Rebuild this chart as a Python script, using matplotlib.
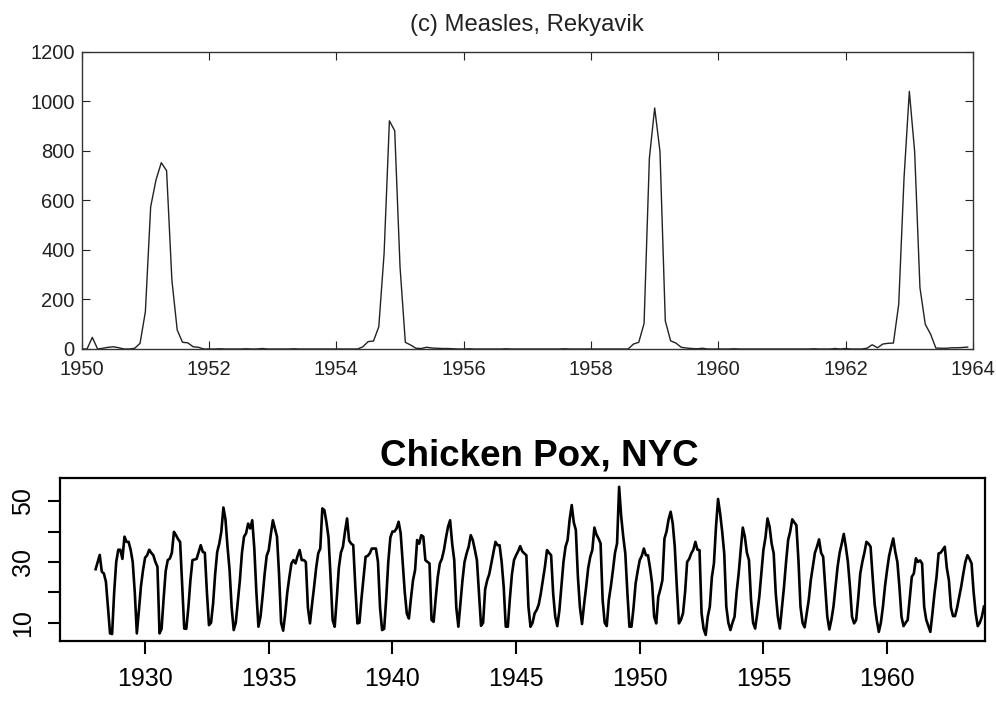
import numpy as np
import matplotlib
matplotlib.use("Agg")
import matplotlib.pyplot as plt

plt.rcParams['font.family'] = ['Liberation Sans', 'DejaVu Sans']

# monthly measles cases, Reykjavik, Jan 1950 - Dec 1963 (one row per year)
measles = [
    0, 0, 47, 0, 3, 7, 9, 5, 0, 0, 3, 23,
    150, 574, 682, 752, 720, 278, 77, 27, 25, 9, 7, 0,
    0, 0, 1, 0, 0, 0, 0, 1, 0, 0, 2, 0,
    0, 0, 0, 0, 1, 0, 0, 0, 0, 0, 0, 0,
    0, 0, 0, 0, 0, 9, 30, 32, 90, 386, 921, 881,
    332, 27, 16, 3, 2, 7, 4, 3, 2, 2, 1, 0,
    0, 1, 0, 0, 0, 0, 0, 0, 1, 0, 0, 0,
    0, 0, 0, 0, 0, 0, 0, 1, 0, 0, 0, 0,
    0, 0, 0, 0, 0, 0, 0, 0, 20, 27, 103, 770,
    973, 797, 114, 33, 24, 7, 4, 2, 1, 3, 0, 0,
    0, 0, 0, 1, 0, 0, 0, 0, 0, 0, 0, 0,
    0, 0, 0, 0, 0, 0, 1, 0, 0, 0, 2, 0,
    2, 0, 0, 0, 3, 17, 5, 20, 23, 24, 181, 690,
    1040, 797, 248, 100, 60, 4, 3, 3, 5, 5, 6, 8,
]
measles_start = 1950

# monthly chicken pox cases, NYC, Jan 1928 - Dec 1963 (one row per year)
chickenpox = [
    27.6, 30, 32.3, 26.8, 26.2, 23.5, 15, 6.5, 6.3, 20, 30, 34,
    34, 31, 38.3, 36.6, 36.6, 34, 30, 20, 6.5, 14, 22, 27.3,
    31.4, 32.2, 34, 33, 32.2, 30, 28.4, 6.5, 8, 18, 27, 30.6,
    31.1, 33, 39.9, 38.8, 37.5, 36.6, 22, 8.1, 8, 15, 24, 30.6,
    30.8, 31, 33.3, 35.5, 33.3, 33, 20, 9.2, 10, 16.3, 26, 33.3,
    36, 40, 47.9, 44, 35, 27.3, 15, 7.6, 10, 17, 24, 33,
    38.3, 39.4, 42.6, 41, 43.7, 34.4, 20, 8.7, 12, 18.6, 26, 32,
    33.9, 39, 43.7, 41, 38.3, 26, 10, 7.4, 13, 20, 25, 29.5,
    30.6, 29.5, 32, 33.9, 30.6, 30.6, 30, 15, 9.8, 16, 21.8, 28,
    32.8, 34.4, 47.6, 47, 43, 38, 25, 10.9, 8.7, 18, 28, 33,
    35, 40, 44.3, 37, 36, 35.5, 22, 9.8, 10, 18, 25, 31.7,
    32, 32.8, 34.4, 34.4, 34.4, 30, 15, 7.6, 8, 18, 30, 38,
    40, 40, 41, 43.2, 39.5, 30, 20, 13, 11.4, 18, 24, 27.3,
    37.2, 36, 38.8, 38.3, 30.6, 30, 29.5, 10.9, 10.3, 18, 25, 29.5,
    31, 33.9, 38, 41.6, 43.7, 36, 30.6, 15, 8.7, 16.4, 24, 30,
    32.8, 35, 38.8, 37.2, 34, 30.6, 20, 9, 10, 21, 24, 26,
    29.5, 33, 36.6, 35.5, 35.5, 30, 21.8, 8.7, 8.7, 18, 26, 30.6,
    32.2, 33.5, 35.2, 33.5, 32.8, 32.2, 15.3, 8.7, 10, 13.1, 14.2, 16,
    19.6, 24, 28.4, 33.9, 33, 32.2, 19.6, 12, 8.9, 14, 21.8, 30,
    35, 37.2, 44, 48.7, 43, 40.5, 25.1, 15, 9.6, 16, 21.8, 28,
    31.7, 33.9, 41.3, 39, 37.7, 36.1, 17.5, 10, 8.9, 17.5, 22, 27.3,
    33, 36.1, 54.7, 45, 38.3, 32.8, 20, 8.7, 8.7, 15, 22.9, 27,
    30.6, 32, 34.4, 32.2, 32.2, 28, 22.9, 12, 9.8, 18.5, 21, 24,
    37.7, 40, 44, 46.5, 42.7, 35, 21.8, 9.8, 11, 13.1, 20, 30,
    31, 32.8, 34, 36.6, 34, 33.9, 13.1, 8, 6, 12, 15.3, 25,
    29.5, 41.6, 50.7, 46, 40, 32.8, 15.3, 10, 7.6, 10, 12, 20,
    26.2, 34, 41.3, 38.3, 33, 30.6, 17.5, 10, 8.1, 13, 18.5, 26,
    33.9, 38, 44.3, 41.6, 36, 32.8, 19.6, 12, 8.1, 15, 21.8, 30,
    37.2, 40, 44, 43, 42.1, 30.6, 15.3, 10, 8.5, 13, 17.5, 24,
    28.4, 33, 35, 37.4, 33, 31.7, 21.8, 12, 7.8, 11, 15.3, 22,
    28.4, 33, 36, 39.2, 35, 30, 21.8, 12, 9.8, 10.9, 18, 26.2,
    30, 33, 36.6, 36, 35, 25.1, 16, 10.9, 7, 10, 15.3, 22,
    27.3, 32, 35, 37.7, 33.3, 30, 21.8, 12, 8.9, 10, 10.9, 18,
    25.1, 26.2, 31.2, 30, 30.5, 29.5, 15.3, 11, 9, 7, 13, 19.6,
    25, 32.8, 33, 34, 35, 28, 24, 15, 12.2, 12.2, 15, 18.5,
    22, 26.2, 30, 32.2, 31, 29.5, 20, 13.1, 8.9, 10, 12, 15.3,
]
chickenpox_start = 1928

measles_xticks = [1950, 1952, 1954, 1956, 1958, 1960, 1962, 1964]
measles_yticks = [0, 200, 400, 600, 800, 1000, 1200]
pox_xticks = [1930, 1935, 1940, 1945, 1950, 1955, 1960]
pox_yticks = [10, 20, 30, 40, 50]
pox_ylabels = ['10', '', '30', '', '50']

t_measles = measles_start + np.arange(len(measles)) / 12
t_pox = chickenpox_start + np.arange(len(chickenpox)) / 12

W, H = 996, 717
fig = plt.figure(figsize=(W / 100, H / 100), dpi=100)

# top panel (matlab style)
ax1 = fig.add_axes([81.7 / W, 1 - 349 / H, (973 - 81.7) / W, (349 - 51.7) / H])
ax1.plot(t_measles, measles, color='#222222', lw=1.0)
ax1.set_xlim(1950, 1964)
ax1.set_ylim(0, 1200)
ax1.set_xticks(measles_xticks)
ax1.set_yticks(measles_yticks)
ax1.tick_params(direction='in', top=True, right=True, length=6, width=0.8,
                labelsize=14.5, colors='#222222', pad=5)
ax1.tick_params(axis='x', pad=8)
for s in ax1.spines.values():
    s.set_linewidth(1.0)
    s.set_color('#333333')
fig.text(527 / W, 1 - 25 / H, '(c) Measles, Rekyavik', ha='center', va='center',
         fontsize=17.2, color='#222222')

# bottom panel (R style)
ax2 = fig.add_axes([60 / W, 1 - 641 / H, 925 / W, 163 / H])
ax2.plot(t_pox, chickenpox, color='black', lw=1.9)
ax2.set_xlim(1926.56, 1963.96)
ax2.set_ylim(4.0, 57.6)
ax2.set_xticks(pox_xticks)
ax2.set_yticks(pox_yticks)
ax2.set_yticklabels(pox_ylabels)
ax2.tick_params(direction='out', length=9, width=1.5, labelsize=18)
ax2.tick_params(axis='x', pad=10)
ax2.tick_params(axis='y', pad=9)
for lab in ax2.get_yticklabels():
    lab.set_rotation(90)
    lab.set_va('center')
for s in ax2.spines.values():
    s.set_linewidth(1.6)
fig.text(539 / W, 1 - 456 / H, 'Chicken Pox, NYC', ha='center', va='center',
         fontsize=26.5, fontweight='bold')

fig.savefig('out.png', dpi=100)
